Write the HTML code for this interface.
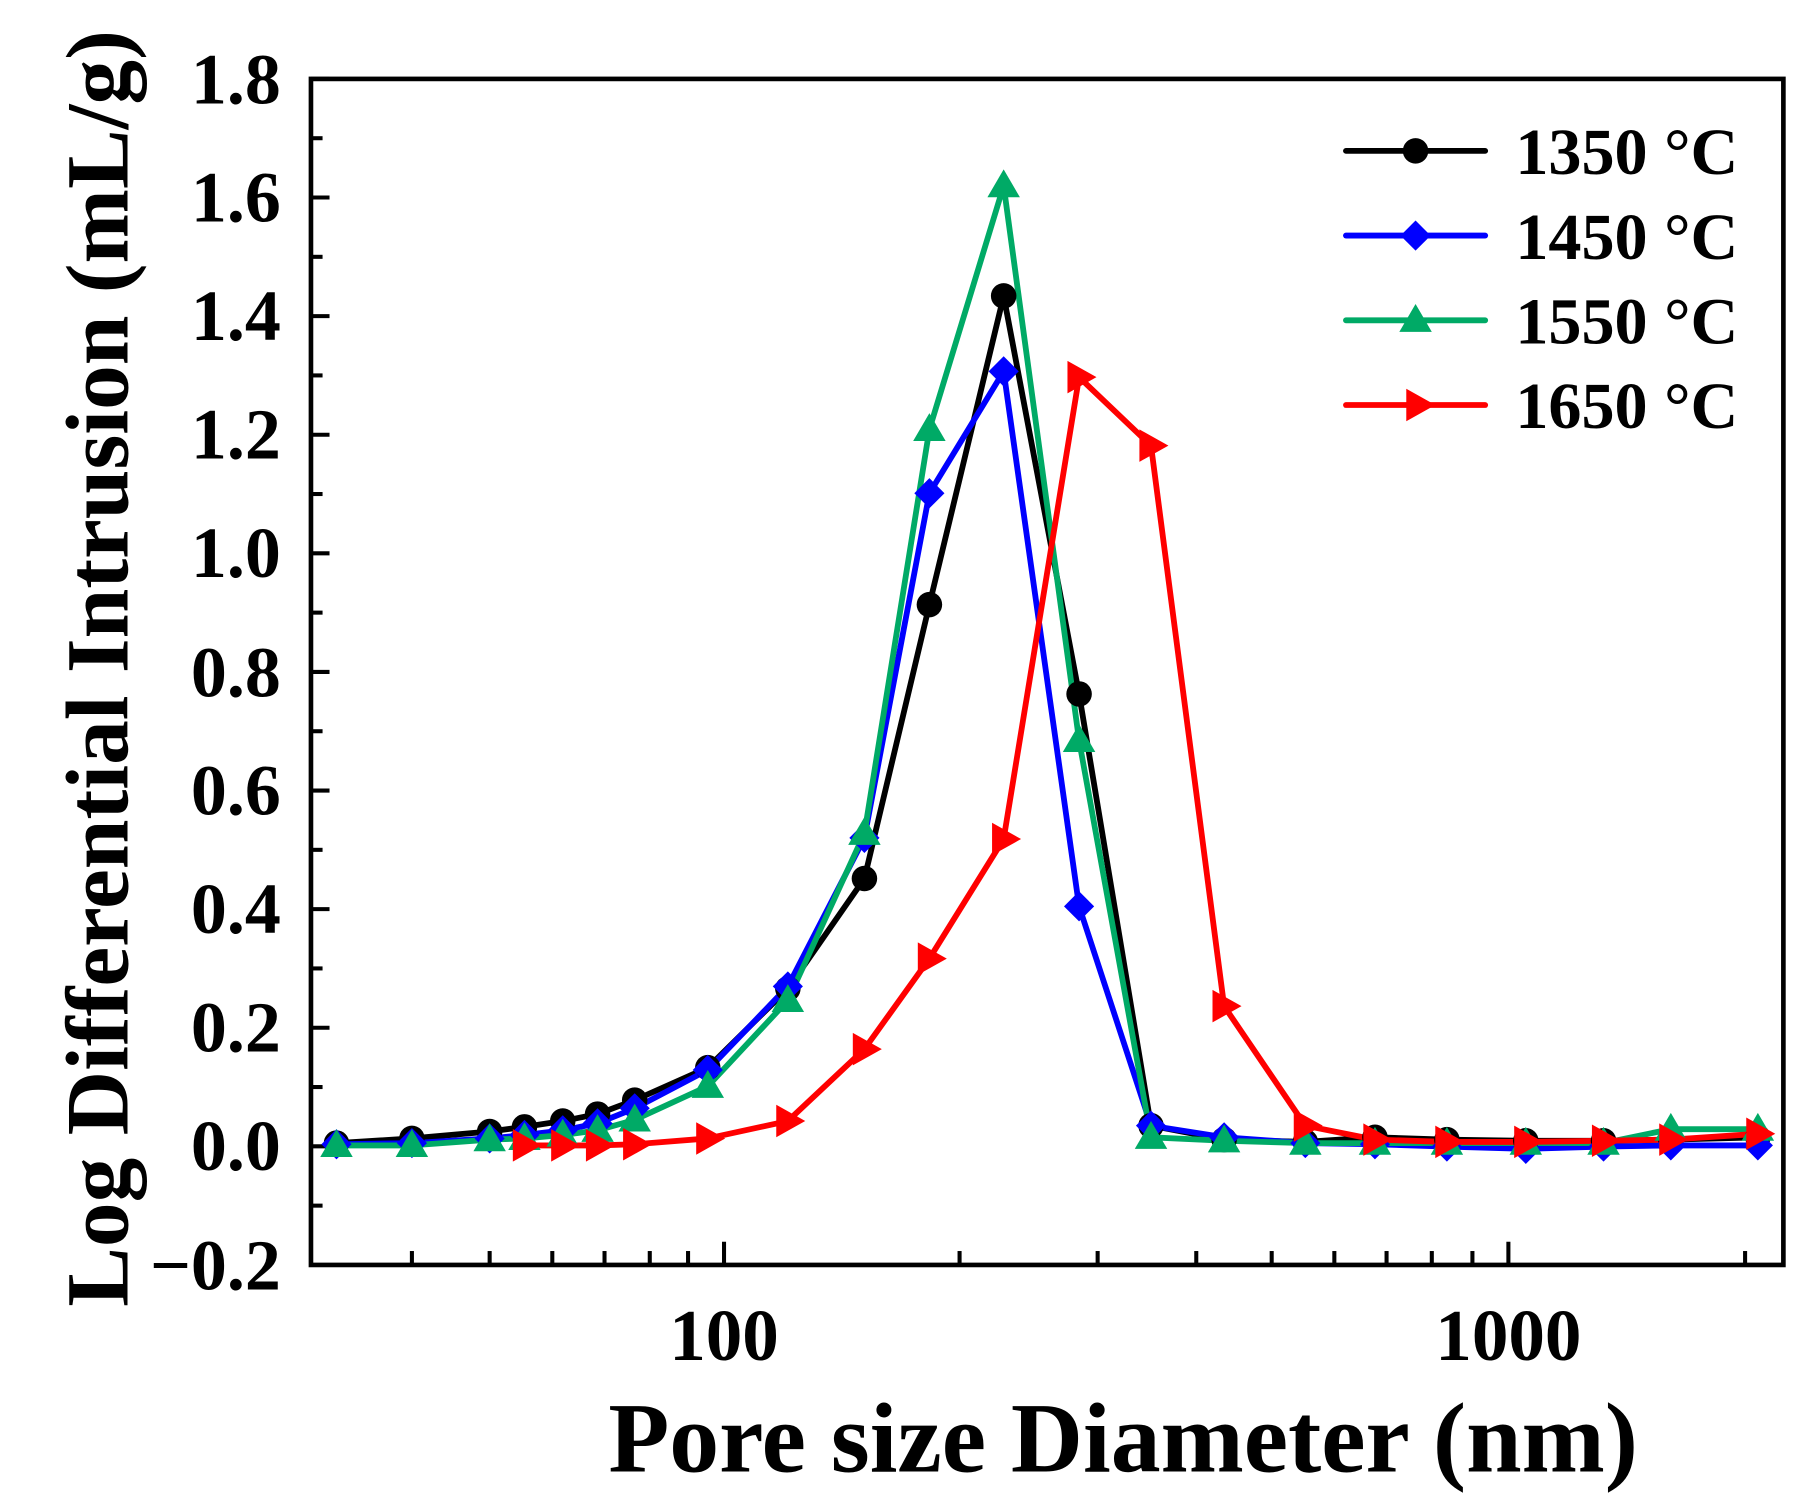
<!DOCTYPE html>
<html><head><meta charset="utf-8"><style>html,body{margin:0;padding:0;background:#fff}svg{display:block}</style></head>
<body>
<svg width="1819" height="1506" viewBox="0 0 1819 1506" xmlns="http://www.w3.org/2000/svg">
<defs>
<circle id="mc" r="11" fill="#000"/>
<polygon id="md" points="0,-13 13,0 0,13 -13,0" fill="#0000ff"/>
<polygon id="mt" points="0,-14 14,10 -14,10" fill="#00aa66"/>
<polygon id="mr" points="-10,-14 15,0 -10,14" fill="#ff0000"/>
</defs>
<g transform="scale(1.1603,1.1605)" font-family="Liberation Serif, serif" font-weight="bold">
<rect x="268" y="68" width="1269" height="1022" fill="none" stroke="#000" stroke-width="4"/>
<g stroke="#000" stroke-width="3.5">
<line x1="268" y1="68" x2="284" y2="68"/><line x1="268" y1="119.1" x2="278" y2="119.1"/>
<line x1="268" y1="170.2" x2="284" y2="170.2"/><line x1="268" y1="221.3" x2="278" y2="221.3"/>
<line x1="268" y1="272.4" x2="284" y2="272.4"/><line x1="268" y1="323.5" x2="278" y2="323.5"/>
<line x1="268" y1="374.6" x2="284" y2="374.6"/><line x1="268" y1="425.7" x2="278" y2="425.7"/>
<line x1="268" y1="476.8" x2="284" y2="476.8"/><line x1="268" y1="527.9" x2="278" y2="527.9"/>
<line x1="268" y1="579" x2="284" y2="579"/><line x1="268" y1="630.1" x2="278" y2="630.1"/>
<line x1="268" y1="681.2" x2="284" y2="681.2"/><line x1="268" y1="732.3" x2="278" y2="732.3"/>
<line x1="268" y1="783.4" x2="284" y2="783.4"/><line x1="268" y1="834.5" x2="278" y2="834.5"/>
<line x1="268" y1="885.6" x2="284" y2="885.6"/><line x1="268" y1="936.7" x2="278" y2="936.7"/>
<line x1="268" y1="987.8" x2="284" y2="987.8"/><line x1="268" y1="1038.9" x2="278" y2="1038.9"/>
<line x1="355" y1="1090" x2="355" y2="1078"/><line x1="422" y1="1090" x2="422" y2="1078"/>
<line x1="476" y1="1090" x2="476" y2="1078"/><line x1="521" y1="1090" x2="521" y2="1078"/>
<line x1="560" y1="1090" x2="560" y2="1078"/><line x1="593" y1="1090" x2="593" y2="1078"/>
<line x1="624" y1="1090" x2="624" y2="1070"/>
<line x1="827" y1="1090" x2="827" y2="1078"/><line x1="946" y1="1090" x2="946" y2="1078"/>
<line x1="1031" y1="1090" x2="1031" y2="1078"/><line x1="1096" y1="1090" x2="1096" y2="1078"/>
<line x1="1150" y1="1090" x2="1150" y2="1078"/><line x1="1195" y1="1090" x2="1195" y2="1078"/>
<line x1="1234" y1="1090" x2="1234" y2="1078"/><line x1="1269" y1="1090" x2="1269" y2="1078"/>
<line x1="1300" y1="1090" x2="1300" y2="1070"/><line x1="1504" y1="1090" x2="1504" y2="1078"/>
</g>
<g font-size="62" text-anchor="end">
<text x="242" y="89">1.8</text><text x="242" y="191">1.6</text><text x="242" y="293">1.4</text>
<text x="242" y="395">1.2</text><text x="242" y="497">1.0</text><text x="242" y="600">0.8</text>
<text x="242" y="702">0.6</text><text x="242" y="804">0.4</text><text x="242" y="906">0.2</text>
<text x="242" y="1008">0.0</text><text x="242" y="1111">−0.2</text>
</g>
<g font-size="63" text-anchor="middle"><text x="624" y="1172">100</text><text x="1300" y="1172">1000</text></g>
<text x="968" y="1268" font-size="86" text-anchor="middle">Pore size Diameter (nm)</text>
<text transform="translate(110,576) rotate(-90)" font-size="77" text-anchor="middle">Log Differential Intrusion (mL/g)</text>
<g fill="none" stroke-width="5" stroke-linejoin="round">
<polyline stroke="#000" points="290,985 355,981 422,975 452,971 485,966 515,960 547,948 610,920 679,852 745,757 801,521 865,255 930,598 992,970 1055,982 1125,984 1185,980 1247,982 1315,983 1382,983 1440,982 1515,980"/>
<polyline stroke="#0000ff" points="290,986 355,985 422,981 452,978 485,974 515,968 547,955 610,922 679,850 745,722 801,425 865,320 930,781 992,970 1055,980 1125,985 1185,986 1247,988 1315,990 1382,988 1440,987 1515,987"/>
<polyline stroke="#00aa66" points="290,987 355,987 422,982 452,981 485,978 515,974 547,965 610,936 679,862 745,718 801,370 865,160 930,638 992,980 1055,983 1125,985 1185,985 1247,985 1315,985 1382,985 1440,973 1515,973"/>
<polyline stroke="#ff0000" points="452,987 485,987 515,987 547,986 610,981 679,966 745,904 801,826 865,723 930,325 992,384 1055,867 1125,970 1185,982 1247,984 1315,984 1382,983 1440,982 1515,977"/>
</g>
<g>
<use href="#mc" x="290" y="985"/><use href="#mc" x="355" y="981"/><use href="#mc" x="422" y="975"/><use href="#mc" x="452" y="971"/><use href="#mc" x="485" y="966"/><use href="#mc" x="515" y="960"/><use href="#mc" x="547" y="948"/><use href="#mc" x="610" y="920"/><use href="#mc" x="679" y="852"/><use href="#mc" x="745" y="757"/><use href="#mc" x="801" y="521"/><use href="#mc" x="865" y="255"/><use href="#mc" x="930" y="598"/><use href="#mc" x="992" y="970"/><use href="#mc" x="1055" y="982"/><use href="#mc" x="1125" y="984"/><use href="#mc" x="1185" y="980"/><use href="#mc" x="1247" y="982"/><use href="#mc" x="1315" y="983"/><use href="#mc" x="1382" y="983"/><use href="#mc" x="1440" y="982"/><use href="#mc" x="1515" y="980"/>
<use href="#md" x="290" y="986"/><use href="#md" x="355" y="985"/><use href="#md" x="422" y="981"/><use href="#md" x="452" y="978"/><use href="#md" x="485" y="974"/><use href="#md" x="515" y="968"/><use href="#md" x="547" y="955"/><use href="#md" x="610" y="922"/><use href="#md" x="679" y="850"/><use href="#md" x="745" y="722"/><use href="#md" x="801" y="425"/><use href="#md" x="865" y="320"/><use href="#md" x="930" y="781"/><use href="#md" x="992" y="970"/><use href="#md" x="1055" y="980"/><use href="#md" x="1125" y="985"/><use href="#md" x="1185" y="986"/><use href="#md" x="1247" y="988"/><use href="#md" x="1315" y="990"/><use href="#md" x="1382" y="988"/><use href="#md" x="1440" y="987"/><use href="#md" x="1515" y="987"/>
<use href="#mt" x="290" y="987"/><use href="#mt" x="355" y="987"/><use href="#mt" x="422" y="982"/><use href="#mt" x="452" y="981"/><use href="#mt" x="485" y="978"/><use href="#mt" x="515" y="974"/><use href="#mt" x="547" y="965"/><use href="#mt" x="610" y="936"/><use href="#mt" x="679" y="862"/><use href="#mt" x="745" y="718"/><use href="#mt" x="801" y="370"/><use href="#mt" x="865" y="160"/><use href="#mt" x="930" y="638"/><use href="#mt" x="992" y="980"/><use href="#mt" x="1055" y="983"/><use href="#mt" x="1125" y="985"/><use href="#mt" x="1185" y="985"/><use href="#mt" x="1247" y="985"/><use href="#mt" x="1315" y="985"/><use href="#mt" x="1382" y="985"/><use href="#mt" x="1440" y="973"/><use href="#mt" x="1515" y="973"/>
<use href="#mr" x="452" y="987"/><use href="#mr" x="485" y="987"/><use href="#mr" x="515" y="987"/><use href="#mr" x="547" y="986"/><use href="#mr" x="610" y="981"/><use href="#mr" x="679" y="966"/><use href="#mr" x="745" y="904"/><use href="#mr" x="801" y="826"/><use href="#mr" x="865" y="723"/><use href="#mr" x="930" y="325"/><use href="#mr" x="992" y="384"/><use href="#mr" x="1055" y="867"/><use href="#mr" x="1125" y="970"/><use href="#mr" x="1185" y="982"/><use href="#mr" x="1247" y="984"/><use href="#mr" x="1315" y="984"/><use href="#mr" x="1382" y="983"/><use href="#mr" x="1440" y="982"/><use href="#mr" x="1515" y="977"/>
</g>
<g stroke-width="5" stroke-linecap="round">
<line x1="1160" y1="130" x2="1280" y2="130" stroke="#000"/>
<line x1="1160" y1="203" x2="1280" y2="203" stroke="#0000ff"/>
<line x1="1160" y1="276" x2="1280" y2="276" stroke="#00aa66"/>
<line x1="1160" y1="349" x2="1280" y2="349" stroke="#ff0000"/>
</g>
<use href="#mc" x="1220" y="130"/><use href="#md" x="1220" y="203"/><use href="#mt" x="1220" y="276"/><use href="#mr" x="1222" y="349"/>
<g font-size="57"><text x="1306" y="150">1350 °C</text><text x="1306" y="223">1450 °C</text><text x="1306" y="296">1550 °C</text><text x="1306" y="369">1650 °C</text></g>
</g>
</svg>
</body></html>
